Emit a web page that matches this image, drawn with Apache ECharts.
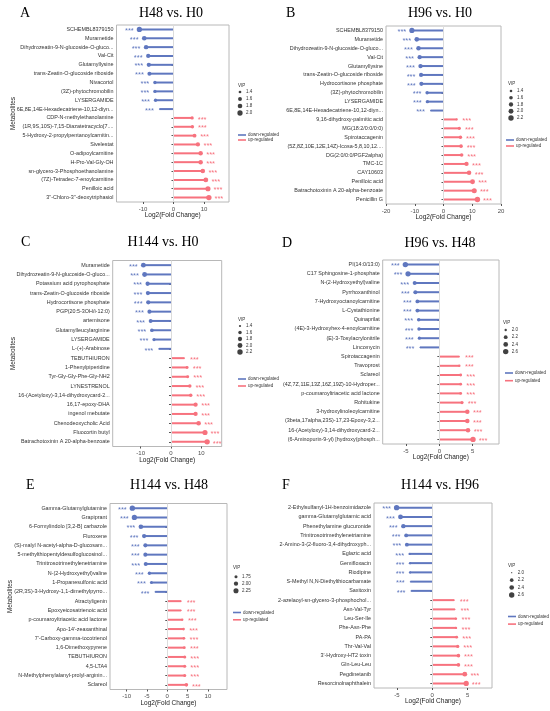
<!DOCTYPE html>
<html lang="en">
<head>
<meta charset="UTF-8">
<meta name="viewport" content="width=device-width, initial-scale=1.0">
<title>Differential metabolites</title>
<script src="https://cdn.jsdelivr.net/npm/echarts@6.0.0/dist/echarts.min.js"></script>
<style>
  html, body { margin: 0; padding: 0; background: #fff; }
  #main { width: 550px; height: 711px; }
</style>
</head>
<body>
<div id="main"></div>
<script>
// ---------- data ----------
var namesA = ['SCHEMBL8379150', 'Murametide', 'Dihydrozeatin-9-N-glucoside-O-gluco...', 'Val-Cit', 'Glutamyllysine',
  'trans-Zeatin-O-glucoside riboside', 'Nivacortol', '(3Z)-phytochromobilin', 'LYSERGAMIDE', '6E,8E,14E-Hexadecatriene-10,12-diyn...',
  'CDP-N-methylethanolamine', '(1R,9S,10S)-7,15-Diazatetracyclo[7....', '5-Hydroxy-2-propylpentanoylcarnitin...', 'Sivelestat', 'O-adipoylcarnitine',
  'H-Pro-Val-Gly-OH', 'sn-glycero-3-Phosphoethanolamine', '(7Z)-Tetradec-7-enoylcarnitine', 'Penilloic acid', "3''-Chloro-3''-deoxytriphasiol"];
var fcA = [-11.2, -9.6, -9.0, -8.3, -8.1, -7.9, -6.1, -6.1, -5.9, -4.6, 6.1, 6.2, 6.9, 8.0, 8.9, 8.9, 9.6, 10.6, 11.3, 11.6];
var vipA = [2.0, 1.8, 1.75, 1.7, 1.7, 1.65, 1.5, 1.5, 1.5, 1.3, 1.5, 1.5, 1.6, 1.7, 1.75, 1.75, 1.8, 1.85, 1.95, 2.05];
var vipTicksA = ['1.4', '1.6', '1.8', '2.0'];

var namesB = ['SCHEMBL8379150', 'Murametide', 'Dihydrozeatin-9-N-glucoside-O-gluco...', 'Val-Cit', 'Glutamyllysine',
  'trans-Zeatin-O-glucoside riboside', 'Hydrocortisone phosphate', '(3Z)-phytochromobilin', 'LYSERGAMIDE', '6E,8E,14E-Hexadecatriene-10,12-diyn...',
  '9,16-dihydroxy-palmitic acid', 'MG(18:2/0:0/0:0)', 'Spirotaccagenin', '(5Z,8Z,10E,12E,14Z)-Icosa-5,8,10,12....', 'DG(2:0/0:0/PGF2alpha)',
  'TMC-1C', 'CAY10603', 'Penilloic acid', 'Batrachotoxinin A 20-alpha-benzoate', 'Penicillin G'];
var fcB = [-11.0, -9.3, -8.7, -8.3, -8.0, -7.8, -7.7, -5.7, -5.6, -4.5, 4.6, 5.5, 5.9, 6.1, 6.3, 8.0, 8.9, 10.1, 10.7, 11.8];
var vipB = [2.1, 1.9, 1.85, 1.8, 1.8, 1.75, 1.75, 1.55, 1.55, 1.3, 1.35, 1.5, 1.55, 1.6, 1.6, 1.8, 1.85, 2.0, 2.05, 2.2];
var vipTicksB = ['1.4', '1.6', '1.8', '2.0', '2.2'];

var namesC = ['Murametide', 'Dihydrozeatin-9-N-glucoside-O-gluco...', 'Potassium acid pyrophosphate', 'trans-Zeatin-O-glucoside riboside', 'Hydrocortisone phosphate',
  'PGP(20:5-3OH/i-12:0)', 'artemisone', 'Glutamylleucylarginine', 'LYSERGAMIDE', 'L-(+)-Arabinose',
  'TEBUTHIURON', '1-Phenylpiperidine', 'Tyr-Gly-Gly-Phe-Gly-NH2', 'LYNESTRENOL', '16-(Acetyloxy)-3,14-dihydroxycard-2...',
  '16,17-epoxy-DHA', 'ingenol mebutate', 'Chenodeoxycholic Acid', 'Fluocortin butyl', 'Batrachotoxinin A 20-alpha-benzoate'];
var fcC = [-9.1, -8.7, -7.7, -7.6, -7.5, -7.1, -6.7, -6.3, -5.6, -4.0, 4.4, 5.3, 5.5, 6.2, 6.5, 8.1, 8.1, 9.1, 11.2, 11.9];
var vipC = [2.0, 2.0, 1.8, 1.8, 1.8, 1.75, 1.7, 1.65, 1.55, 1.35, 1.35, 1.5, 1.5, 1.6, 1.6, 1.8, 1.8, 1.9, 2.1, 2.2];
var vipTicksC = ['1.4', '1.6', '1.8', '2.0', '2.2'];

var namesD = ['PI(14:0/13:0)', 'C17 Sphingosine-1-phosphate', 'N-(2-Hydroxyethyl)valine', 'Pyrrhoxanthinol', '7-Hydroxyoctanoylcarnitine',
  'L-Cystathionine', 'Quinaprilat', '(4E)-3-Hydroxyhex-4-enoylcarnitine', '(E)-3-Tosylacrylonitrile', 'Lincomycin',
  'Spirotaccagenin', 'Travoprost', 'Sclareol', '(4Z,7Z,11E,13Z,16Z,19Z)-10-Hydroper...', 'p-coumaroyltriacetic acid lactone',
  'Rohitukine', '3-hydroxylinoleoylcarnitine', '(3beta,17alpha,23S)-17,23-Epoxy-3,2...', '16-(Acetyloxy)-3,14-dihydroxycard-2...', '(6-Aminopurin-9-yl) [hydroxy(phosph...'];
var fcD = [-5.1, -4.7, -3.7, -3.6, -3.3, -3.3, -3.1, -3.05, -3.0, -2.9, 3.0, 3.0, 3.2, 3.2, 3.2, 3.4, 4.2, 4.2, 4.3, 5.05];
var vipD = [2.6, 2.55, 2.25, 2.25, 2.2, 2.2, 2.15, 2.15, 2.1, 1.95, 1.95, 2.0, 2.05, 2.05, 2.05, 2.1, 2.35, 2.35, 2.35, 2.6];
var vipTicksD = ['2.0', '2.2', '2.4', '2.6'];

var namesE = ['Gamma-Glutamylglutamine', 'Grapiprant', '6-Formylindolo [3,2-B] carbazole', 'Fluroxene', '(S)-malyl N-acetyl-alpha-D-glucosam...',
  '5-methylthiopentyldesulfoglucosinol...', 'Trinitrosotrimethylenetriamine', 'N-(2-Hydroxyethyl)valine', '1-Propanesulfonic acid', '(2R,3S)-3-Hydroxy-1,1-dimethylpyrro...',
  'Atractyligenin', 'Epoxyeicosatrienoic acid', 'p-coumaroyltriacetic acid lactone', "Apo-14'-zeaxanthinal", "7'-Carboxy-gamma-tocotrienol",
  '1,6-Dimethoxypyrene', 'TEBUTHIURON', '4,5-LTA4', 'N-Methylphenylalanyl-prolyl-arginin...', 'Sclareol'];
var fcE = [-8.6, -8.1, -6.5, -5.7, -5.4, -5.4, -5.3, -4.4, -3.9, -3.0, 3.4, 3.4, 3.7, 4.0, 4.1, 4.2, 4.3, 4.3, 4.3, 4.7];
var vipE = [2.35, 2.3, 2.1, 2.0, 1.95, 1.95, 1.95, 1.8, 1.75, 1.6, 1.6, 1.6, 1.65, 1.7, 1.7, 1.7, 1.75, 1.75, 1.75, 1.85];
var vipTicksE = ['1.75', '2.00', '2.25'];

var namesF = ['2-Ethylsulfanyl-1H-benzoimidazole', 'gamma-Glutamylglutamic acid', 'Phenethylamine glucuronide', 'Trinitrosotrimethylenetriamine', '2-Amino-3-(2-fluoro-3,4-dihydroxyph...',
  'Eglazic acid', 'Gemifloxacin', 'Riodipine', 'S-Methyl N,N-Diethylthiocarbamate', 'Saxitoxin',
  '2-azelaoyl-sn-glycero-3-phosphochol...', 'Asn-Val-Tyr', 'Leu-Ser-Ile', 'Phe-Asn-Phe', 'PA-PA',
  'Thr-Val-Val', "3'-Hydroxy-HT2 toxin", 'Gln-Leu-Leu', 'Pegdinetanib', 'Resorcinolnaphthalein'];
var fcF = [-5.05, -4.5, -4.1, -3.7, -3.6, -3.2, -3.15, -3.15, -3.1, -3.0, 3.1, 3.2, 3.35, 3.35, 3.45, 3.6, 3.7, 3.7, 4.6, 4.8];
var vipF = [2.6, 2.45, 2.35, 2.25, 2.25, 2.05, 2.05, 2.05, 2.0, 2.0, 2.0, 2.0, 2.05, 2.05, 2.1, 2.15, 2.2, 2.2, 2.45, 2.55];
var vipTicksF = ['2.0', '2.2', '2.4', '2.6'];

// ---------- layout ----------
var blue = '#5f77bf', red = '#f7727e';
var sans = '"Liberation Sans", Arial, sans-serif';
var serif = '"Liberation Serif", "Times New Roman", serif';

var panels = [
  { tag: 'A', title: 'H48 vs. H0', names: namesA, fc: fcA, vip: vipA, ticks: vipTicksA, xTicks: [-10, 0, 10], min: -18.7, max: 18.2,
    grid: { left: 116.5, top: 25, width: 112.5, height: 177 }, tx: 171, ty: 13, lx: 20, yGap: 100,
    leg: { x: 240, y: 92, step: 7 }, vipAt: [238, 85.5], ll: { x: 238, y: 132.5, gap: 0 } },
  { tag: 'B', title: 'H96 vs. H0', names: namesB, fc: fcB, vip: vipB, ticks: vipTicksB, xTicks: [-20, -10, 0, 10, 20], min: -20, max: 20,
    grid: { left: 386, top: 26, width: 115, height: 178 }, tx: 440, ty: 13, lx: 286, yGap: 0,
    leg: { x: 511, y: 91, step: 6.75 }, vipAt: [508, 84], ll: { x: 506, y: 137.5, gap: 1 } },
  { tag: 'C', title: 'H144 vs. H0', names: namesC, fc: fcC, vip: vipC, ticks: vipTicksC, xTicks: [-10, 0, 10], min: -19.2, max: 16.7,
    grid: { left: 112.7, top: 260.5, width: 109, height: 186 }, tx: 163, ty: 242, lx: 21, yGap: 96,
    leg: { x: 240, y: 326, step: 6.5 }, vipAt: [238, 319.5], ll: { x: 238, y: 376.5, gap: 2 } },
  { tag: 'D', title: 'H96 vs. H48', names: namesD, fc: fcD, vip: vipD, ticks: vipTicksD, xTicks: [-5, 0, 5], min: -8.5, max: 8.95,
    grid: { left: 382.7, top: 260, width: 116.3, height: 184 }, tx: 440, ty: 243, lx: 282, yGap: 0,
    leg: { x: 505.7, y: 330, step: 7.2 }, vipAt: [503, 323], ll: { x: 505, y: 370.5, gap: 2.7 } },
  { tag: 'E', title: 'H144 vs. H48', names: namesE, fc: fcE, vip: vipE, ticks: vipTicksE, xTicks: [-10, -5, 0, 5, 10], min: -14.1, max: 14.7,
    grid: { left: 110, top: 503.5, width: 117, height: 186 }, tx: 169, ty: 485, lx: 26, yGap: 96,
    leg: { x: 236, y: 576.7, step: 7 }, vipAt: [233, 568], ll: { x: 233, y: 610, gap: 2.3 } },
  { tag: 'F', title: 'H144 vs. H96', names: namesF, fc: fcF, vip: vipF, ticks: vipTicksF, xTicks: [-5, 0, 5], min: -8.25, max: 8.45,
    grid: { left: 374, top: 503, width: 118, height: 185 }, tx: 440, ty: 485, lx: 282, yGap: 0,
    leg: { x: 511.7, y: 572.7, step: 7.43 }, vipAt: [508, 566], ll: { x: 508, y: 614, gap: 2.6 } }
];

var chart = echarts.init(document.getElementById('main'), null, { renderer: 'canvas' });

var option = {
  animation: false,
  backgroundColor: '#fff',
  textStyle: { fontFamily: sans },
  grid: [], xAxis: [], yAxis: [], legend: [], series: [], graphic: []
};

panels.forEach(function (p) {
  var vmin = Math.min.apply(null, p.vip), vmax = Math.max.apply(null, p.vip);
  function size(v) {
    var t = (v - vmin) / (vmax - vmin);
    t = Math.max(0, Math.min(1, t));
    return 1.2 + 4.2 * Math.sqrt(t);
  }

  // main plot
  var gi = option.grid.length;
  option.grid.push(Object.assign({ show: true, borderColor: '#b8b8b8', borderWidth: 1 }, p.grid));
  option.xAxis.push({
    type: 'value', gridIndex: gi, min: p.min, max: p.max,
    name: 'Log2(Fold Change)', nameLocation: 'middle', nameGap: 10, nameMoveOverlap: false,
    nameTextStyle: { fontSize: 6.5, color: '#222' },
    axisLine: { show: false }, splitLine: { show: false },
    axisTick: { show: true, length: 2, customValues: p.xTicks, lineStyle: { color: '#555' } },
    axisLabel: { customValues: p.xTicks, fontSize: 6, color: '#4d4d4d', margin: 4 }
  });
  option.yAxis.push({
    type: 'category', gridIndex: gi, data: p.names, inverse: true,
    name: p.yGap ? 'Metabolites' : '', nameLocation: 'middle', nameRotate: 90, nameGap: p.yGap,
    nameMoveOverlap: false,
    nameTextStyle: { fontSize: 6.5, color: '#222' },
    axisLine: { show: false }, splitLine: { show: false },
    axisTick: { show: true, length: 2, alignWithLabel: true, lineStyle: { color: '#555' } },
    axisLabel: { fontSize: 5.4, color: '#333', margin: 3, interval: 0 }
  });

  var down = p.fc.map(function (v) { return v < 0 ? v : '-'; });
  var up = p.fc.map(function (v) { return v > 0 ? v : '-'; });
  option.series.push({
    type: 'bar', name: 'down-regulated', xAxisIndex: gi, yAxisIndex: gi, data: down,
    barWidth: 2, barGap: '-100%', itemStyle: { color: blue },
    markLine: {
      silent: true, symbol: 'none', label: { show: false },
      lineStyle: { color: '#dcdcdc', type: 'solid', width: 1 },
      data: [{ xAxis: 0 }]
    }
  });
  option.series.push({
    type: 'bar', name: 'up-regulated', xAxisIndex: gi, yAxisIndex: gi, data: up,
    barWidth: 2, barGap: '-100%', itemStyle: { color: red }
  });

  var ptsDown = [], ptsUp = [];
  p.fc.forEach(function (v, i) {
    var item = { value: [v, i], symbolSize: size(p.vip[i]) };
    (v < 0 ? ptsDown : ptsUp).push(item);
  });
  option.series.push({
    type: 'scatter', name: 'pts-down', xAxisIndex: gi, yAxisIndex: gi, data: ptsDown, z: 3,
    itemStyle: { color: blue, opacity: 1 },
    label: { show: true, formatter: '***', position: 'inside', offset: [-10, 1.6], fontSize: 7.5, color: blue }
  });
  option.series.push({
    type: 'scatter', name: 'pts-up', xAxisIndex: gi, yAxisIndex: gi, data: ptsUp, z: 3,
    itemStyle: { color: red, opacity: 1 },
    label: { show: true, formatter: '***', position: 'inside', offset: [10, 1.6], fontSize: 7.5, color: red }
  });

  // VIP size legend as a tiny grid
  var lg = option.grid.length;
  option.grid.push({ left: p.leg.x - 2, width: 4, top: p.leg.y - p.leg.step / 2, height: p.leg.step * p.ticks.length });
  option.xAxis.push({ type: 'value', gridIndex: lg, min: -1, max: 1, show: false });
  option.yAxis.push({
    type: 'category', gridIndex: lg, data: p.ticks, inverse: true, position: 'right',
    axisLine: { show: false }, axisTick: { show: false }, splitLine: { show: false },
    axisLabel: { fontSize: 4.5, color: '#333', margin: 4, interval: 0 }
  });
  option.series.push({
    type: 'scatter', name: 'vip-key', xAxisIndex: lg, yAxisIndex: lg, silent: true,
    data: p.ticks.map(function (t, i) { return { value: [0, i], symbolSize: size(parseFloat(t)) }; }),
    itemStyle: { color: '#111' }
  });

  // regulation legend
  option.legend.push({
    orient: 'vertical', left: p.ll.x, top: p.ll.y, padding: 0,
    itemWidth: 8, itemHeight: 1.6, itemGap: p.ll.gap, icon: 'rect', selectedMode: false,
    textStyle: { fontSize: 4.5, color: '#333', padding: [0, 0, 0, -3] },
    data: ['down-regulated', 'up-regulated']
  });

  // titles and labels
  option.graphic.push({ type: 'text', x: p.tx, y: p.ty, silent: true,
    style: { text: p.title, font: '14px ' + serif, fill: '#000', align: 'center', verticalAlign: 'middle' } });
  option.graphic.push({ type: 'text', x: p.lx, y: p.ty, silent: true,
    style: { text: p.tag, font: '14px ' + serif, fill: '#000', align: 'left', verticalAlign: 'middle' } });
  option.graphic.push({ type: 'text', x: p.vipAt[0], y: p.vipAt[1], silent: true,
    style: { text: 'VIP', font: '4.5px ' + sans, fill: '#333', align: 'left', verticalAlign: 'middle' } });
});

chart.setOption(option);
</script>
</body>
</html>
